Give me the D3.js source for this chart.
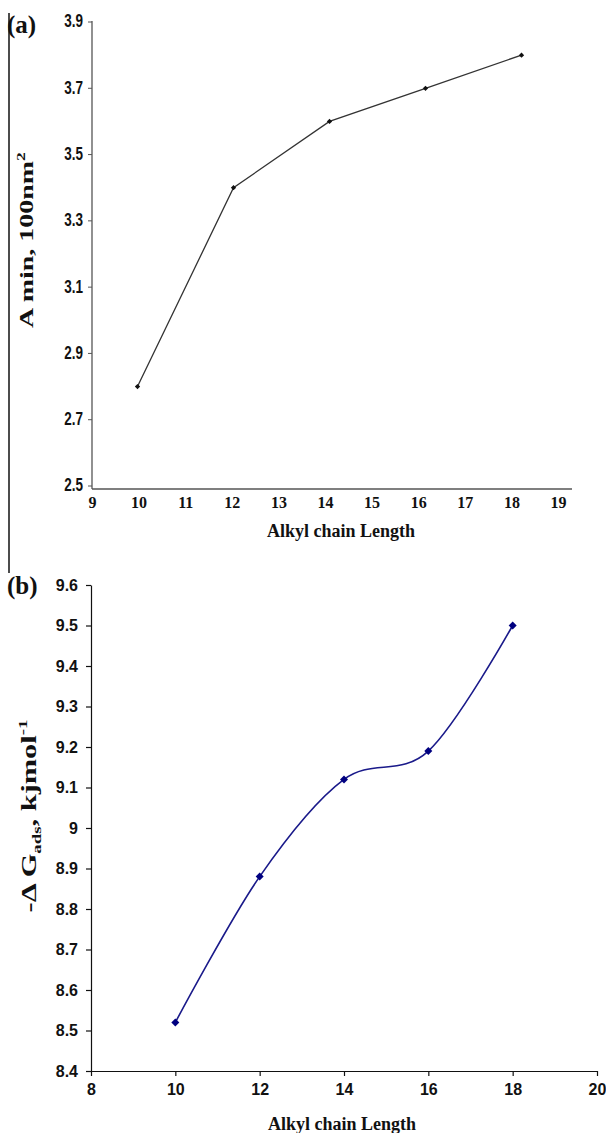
<!DOCTYPE html>
<html>
<head>
<meta charset="utf-8">
<script src="https://cdn.jsdelivr.net/npm/d3@7"></script>
<style>
  body { margin: 0; background: #fff; }
  svg { display: block; }
</style>
</head>
<body>
<div id="chart"></div>
<script>
// panel (a): minimum area vs chain length
const chainA = [10, 12, 14, 16, 18];
const aminA = [2.8, 3.4, 3.6, 3.7, 3.8];
const tickYA = [2.5, 2.7, 2.9, 3.1, 3.3, 3.5, 3.7, 3.9];
const tickXA = [9, 10, 11, 12, 13, 14, 15, 16, 17, 18, 19];

// panel (b): -dG ads vs chain length
const chainB = [10, 12, 14, 16, 18];
const dgB = [8.52, 8.88, 9.12, 9.19, 9.5];
const tickYB = [8.4, 8.5, 8.6, 8.7, 8.8, 8.9, 9.0, 9.1, 9.2, 9.3, 9.4, 9.5, 9.6];
const tickXB = [8, 10, 12, 14, 16, 18, 20];

const W = 606, H = 1133;
const svg = d3.select("#chart").append("svg")
  .attr("width", W).attr("height", H)
  .style("background", "white");

const serif = "'Liberation Serif', 'Times New Roman', serif";
const sans = "'Liberation Sans', Arial, sans-serif";

// stretch rotated titles to the length seen in the scan
function fitText(sel, len) {
  const n = sel.node().getComputedTextLength();
  const t = sel.attr("transform");
  sel.attr("transform", t + ` scale(${len / n},1)`);
}

// left border line
svg.append("line").attr("x1", 9).attr("x2", 9).attr("y1", 13).attr("y2", 573)
  .attr("stroke", "#111").attr("stroke-width", 1.5);

// ---------- (a) ----------
const xA = d3.scaleLinear().domain([9, 19]).range([89.5, 569.5]);
const xAlab = d3.scaleLinear().domain([9, 19]).range([92, 558]);
const yA = d3.scaleLinear().domain([2.5, 3.9]).range([486, 22]);
const gA = svg.append("g");

gA.append("line").attr("x1", 92).attr("x2", 92).attr("y1", 21).attr("y2", 489)
  .attr("stroke", "#555").attr("stroke-width", 1.3);
gA.append("line").attr("x1", 92).attr("x2", 572).attr("y1", 489).attr("y2", 489)
  .attr("stroke", "#555").attr("stroke-width", 1.3);

const axYA = gA.append("g").attr("transform", "translate(92,0)")
  .call(d3.axisLeft(yA).tickValues(tickYA).tickSize(4).tickFormat(d3.format(".1f")));
axYA.select(".domain").remove();
axYA.selectAll(".tick line").attr("stroke", "#555");
// condensed, tall look of the scanned labels
axYA.selectAll("text").attr("font-family", sans).attr("font-weight", "bold")
  .attr("font-size", 15).attr("fill", "#111")
  .attr("x", -9 / 0.9).attr("dy", "0.3em")
  .attr("transform", "scale(0.9,1.2)")
  .attr("y", 0);
axYA.selectAll(".tick").each(function (d) {
  d3.select(this).attr("transform", `translate(0,${yA(d)})`);
});

const axXA = gA.append("g").attr("transform", "translate(0,489)")
  .call(d3.axisBottom(xAlab).tickValues(tickXA).tickSize(0).tickFormat(d3.format("d")));
axXA.select(".domain").remove();
axXA.selectAll("text").attr("font-family", serif).attr("font-weight", "bold")
  .attr("font-size", 16).attr("fill", "#111").attr("dy", "1em");

gA.append("path").datum(chainA.map((c, i) => [c, aminA[i]]))
  .attr("fill", "none").attr("stroke", "#333").attr("stroke-width", 1.3)
  .attr("d", d3.line().x(d => xA(d[0])).y(d => yA(d[1])));

gA.selectAll(".mk").data(chainA).join("path")
  .attr("d", d3.symbol(d3.symbolSquare, 14))
  .attr("transform", (d, i) => `translate(${xA(d)},${yA(aminA[i])}) rotate(45)`)
  .attr("fill", "#111");

gA.append("text").attr("x", 341).attr("y", 537).attr("text-anchor", "middle")
  .attr("font-family", serif).attr("font-weight", "bold").attr("font-size", 18)
  .attr("fill", "#111").text("Alkyl chain Length");

const tA = gA.append("text").attr("transform", "translate(33,240) rotate(-90)")
  .attr("text-anchor", "middle").attr("font-family", serif).attr("font-weight", "bold")
  .attr("font-size", 19).attr("fill", "#111");
tA.append("tspan").text("A min, 100nm");
tA.append("tspan").attr("font-size", 12).attr("dy", -8).text("2");
fitText(tA, 176);

svg.append("text").attr("x", 7).attr("y", 33).attr("font-family", serif)
  .attr("font-weight", "bold").attr("font-size", 25).attr("fill", "#111").text("(a)");

// ---------- (b) ----------
const xB = d3.scaleLinear().domain([8, 20]).range([91, 597]);
const yB = d3.scaleLinear().domain([8.4, 9.6]).range([1071, 585]);
const gB = svg.append("g");

const axYB = gB.append("g").attr("transform", "translate(91,0)")
  .call(d3.axisLeft(yB).tickValues(tickYB).tickSize(5).tickSizeOuter(0)
    .tickFormat(d => String(+d.toFixed(1))));
axYB.selectAll("path, line").attr("stroke", "#111").attr("stroke-width", 1.2);
axYB.selectAll("text").attr("font-family", sans).attr("font-weight", "bold")
  .attr("font-size", 16).attr("fill", "#111").attr("x", -13);

const axXB = gB.append("g").attr("transform", "translate(0,1071)")
  .call(d3.axisBottom(xB).tickValues(tickXB).tickSize(5).tickSizeOuter(0)
    .tickFormat(d3.format("d")));
axXB.selectAll("path, line").attr("stroke", "#111").attr("stroke-width", 1.2);
axXB.selectAll("text").attr("font-family", sans).attr("font-weight", "bold")
  .attr("font-size", 16).attr("fill", "#111").attr("y", 13);

gB.append("path").datum(chainB.map((c, i) => [c, dgB[i]]))
  .attr("fill", "none").attr("stroke", "#1a1a8a").attr("stroke-width", 1.6)
  .attr("d", d3.line().curve(d3.curveCardinal.tension(0)).x(d => xB(d[0])).y(d => yB(d[1])));

gB.selectAll(".mk").data(chainB).join("path")
  .attr("d", d3.symbol(d3.symbolSquare, 32))
  .attr("transform", (d, i) => `translate(${xB(d)},${yB(dgB[i])}) rotate(45)`)
  .attr("fill", "#000080");

gB.append("text").attr("x", 342).attr("y", 1130).attr("text-anchor", "middle")
  .attr("font-family", serif).attr("font-weight", "bold").attr("font-size", 18)
  .attr("fill", "#111").text("Alkyl chain Length");

const tB = gB.append("text").attr("transform", "translate(36,816) rotate(-90)")
  .attr("text-anchor", "middle").attr("font-family", serif).attr("font-weight", "bold")
  .attr("font-size", 21).attr("fill", "#111");
tB.append("tspan").text("-\u0394 G");
tB.append("tspan").attr("font-size", 13).attr("dy", 5).text("ads");
tB.append("tspan").attr("dy", -5).text(", kjmol");
tB.append("tspan").attr("font-size", 13).attr("dy", -9).text("-1");
fitText(tB, 193);

svg.append("text").attr("x", 7).attr("y", 594).attr("font-family", serif)
  .attr("font-weight", "bold").attr("font-size", 25).attr("fill", "#111").text("(b)");
</script>
</body>
</html>
